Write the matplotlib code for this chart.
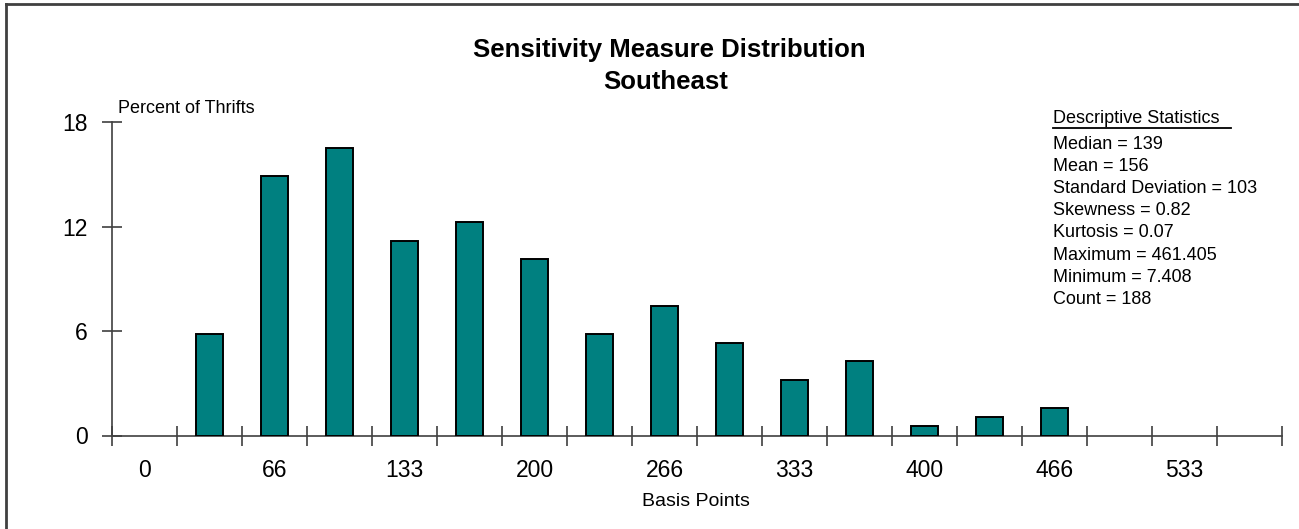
import matplotlib
matplotlib.use("Agg")
import matplotlib.pyplot as plt
from matplotlib.lines import Line2D
from matplotlib.ticker import FixedLocator, NullFormatter

plt.rcParams['font.family'] = ['Liberation Sans', 'DejaVu Sans']

# ---- data ----
categories = ["0", "", "66", "", "133", "", "200", "", "266", "", "333", "",
              "400", "", "466", "", "533", ""]
percent_of_thrifts = [0, 5.85, 14.89, 16.49, 11.17, 12.23, 10.11, 5.85, 7.45,
                      5.32, 3.19, 4.26, 0.53, 1.06, 1.60, 0, 0, 0]
y_ticks = [0, 6, 12, 18]
title_lines = ["Sensitivity Measure Distribution", "Southeast"]
stats_header = "Descriptive Statistics"
stats_lines = ["Median = 139", "Mean = 156", "Standard Deviation = 103",
               "Skewness = 0.82", "Kurtosis = 0.07", "Maximum = 461.405",
               "Minimum = 7.408", "Count = 188"]

W, H = 1299, 529
fig = plt.figure(figsize=(W / 100, H / 100), dpi=100)
fx = lambda px: px / W
fy = lambda py: 1 - py / H

ax = fig.add_axes([fx(112), fy(435.5), fx(1282) - fx(112), fy(122) - fy(435.5)])

n = len(percent_of_thrifts)
centers = [i + 0.5 for i in range(n)]
edge_widths = [1.4 if v > 0 else 0 for v in percent_of_thrifts]
ax.bar(centers, percent_of_thrifts, width=0.42, color="#008080",
       edgecolor="black", linewidth=edge_widths, zorder=3)

ax.set_xlim(0, n)
ax.set_ylim(0, 18)

axis_col = "#404040"
for s in ["top", "right"]:
    ax.spines[s].set_visible(False)
for s in ["left", "bottom"]:
    ax.spines[s].set_color(axis_col)
    ax.spines[s].set_linewidth(1.2)

# x ticks: boundaries (marks), centers (labels)
ax.xaxis.set_major_locator(FixedLocator(list(range(n + 1))))
ax.xaxis.set_major_formatter(NullFormatter())
ax.xaxis.set_minor_locator(FixedLocator(centers))
ax.set_xticklabels(categories, minor=True)
ax.tick_params(axis="x", which="major", direction="inout", length=14,
               width=1.2, color=axis_col)
ax.tick_params(axis="x", which="minor", length=0, pad=17, labelsize=16.5)

ax.set_yticks(y_ticks)
ax.set_yticklabels([str(v) for v in y_ticks])
ax.tick_params(axis="y", direction="inout", length=15, width=1.2,
               color=axis_col, pad=10, labelsize=16.5)

# axis titles
fig.text(fx(118), fy(113), "Percent of Thrifts", fontsize=13,
         ha="left", va="baseline")
fig.text(fx(696), fy(506), "Basis Points", fontsize=14,
         ha="center", va="baseline")

# chart title
fig.text(fx(669), fy(57), title_lines[0], fontsize=18.5, fontweight="bold",
         ha="center", va="baseline")
fig.text(fx(666), fy(89), title_lines[1], fontsize=18.5, fontweight="bold",
         ha="center", va="baseline")

# descriptive statistics
fig.text(fx(1053), fy(123), stats_header, fontsize=13, ha="left",
         va="baseline")
fig.add_artist(Line2D([fx(1053), fx(1231)], [fy(128), fy(128)],
                      transform=fig.transFigure, color="black", lw=1.3))
for i, line in enumerate(stats_lines):
    fig.text(fx(1053), fy(149 + i * 22.1), line, fontsize=13, ha="left",
             va="baseline")

# outer frame (top and left)
fig.add_artist(Line2D([fx(6), fx(W)], [fy(4), fy(4)],
                      transform=fig.transFigure, color=axis_col, lw=2))
fig.add_artist(Line2D([fx(6), fx(6)], [fy(4), fy(H)],
                      transform=fig.transFigure, color=axis_col, lw=2))

fig.savefig("out.png", dpi=100)
